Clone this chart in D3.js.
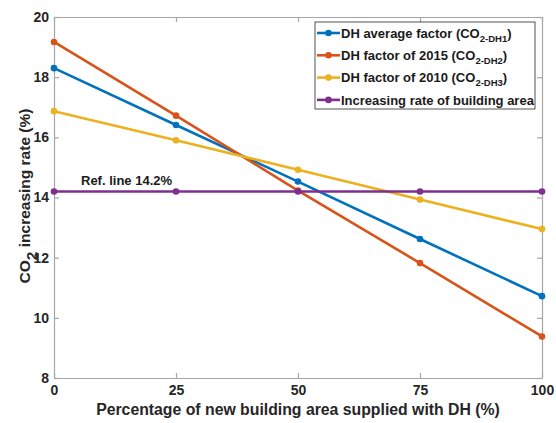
<!DOCTYPE html>
<html>
<head>
<meta charset="utf-8">
<script src="https://cdn.jsdelivr.net/npm/d3@7"></script>
<style>
  body { margin: 0; background: #fff; }
  svg { font-family: Arial, "Liberation Sans", sans-serif; }
</style>
</head>
<body>
<div id="chart"></div>
<script>
// data
let xValues = [0, 25, 50, 75, 100];
let dh1 = [18.3, 16.41, 14.53, 12.62, 10.72];
let dh2 = [19.17, 16.72, 14.23, 11.82, 9.38];
let dh3 = [16.87, 15.9, 14.92, 13.93, 12.95];
let area = [14.2, 14.2, 14.2, 14.2, 14.2];
let xTicks = [0, 25, 50, 75, 100];
let yTicks = [8, 10, 12, 14, 16, 18, 20];

let series = [
  {name: "DH average factor (CO", sub: "2-DH1", values: dh1, color: "#0072BD"},
  {name: "DH factor of 2015 (CO", sub: "2-DH2", values: dh2, color: "#D95319"},
  {name: "DH factor of 2010 (CO", sub: "2-DH3", values: dh3, color: "#EDB120"},
  {name: "Increasing rate of building area", sub: null, values: area, color: "#7E2F8E"}
];

let w = 556, h = 423;
let padLeft = 54, padRight = 542, padTop = 17, padBottom = 378;

let svg = d3.select("#chart")
  .append("svg")
    .attr("width", w)
    .attr("height", h);

let xScale = d3.scaleLinear().domain([0, 100]).range([padLeft, padRight]);
let yScale = d3.scaleLinear().domain([8, 20]).range([padBottom, padTop]);

// axes, matlab style box with inward ticks
let axisColor = "#a6a6a6";
let gx = svg.append("g")
  .attr("transform", "translate(0," + padBottom + ")")
  .call(d3.axisBottom(xScale).tickValues(xTicks).tickSizeInner(-5).tickSizeOuter(0).tickPadding(7));
let gy = svg.append("g")
  .attr("transform", "translate(" + padLeft + ",0)")
  .call(d3.axisLeft(yScale).tickValues(yTicks).tickSizeInner(-5).tickSizeOuter(0).tickPadding(5));
let gxt = svg.append("g")
  .attr("transform", "translate(0," + padTop + ")")
  .call(d3.axisTop(xScale).tickValues(xTicks).tickSizeInner(-5).tickSizeOuter(0).tickFormat(""));
let gyr = svg.append("g")
  .attr("transform", "translate(" + padRight + ",0)")
  .call(d3.axisRight(yScale).tickValues(yTicks).tickSizeInner(-5).tickSizeOuter(0).tickFormat(""));

[gx, gy, gxt, gyr].forEach(function(g){
  g.selectAll("path, line").attr("stroke", axisColor).attr("stroke-width", 1.2);
  g.selectAll("text")
    .attr("fill", "#262626")
    .attr("font-size", "14px")
    .attr("font-weight", "bold");
});

// lines
let line = d3.line()
  .x(function(d, i){ return xScale(xValues[i]); })
  .y(function(d){ return yScale(d); });

series.forEach(function(s){
  svg.append("path")
    .datum(s.values)
    .attr("fill", "none")
    .attr("stroke", s.color)
    .attr("stroke-width", 2.6)
    .attr("d", line);
  svg.selectAll(null)
    .data(s.values)
    .enter()
    .append("circle")
      .attr("cx", function(d, i){ return xScale(xValues[i]); })
      .attr("cy", function(d){ return yScale(d); })
      .attr("r", 3.3)
      .attr("fill", s.color);
});

// ref line label
svg.append("text")
  .attr("x", 81)
  .attr("y", yScale(14.2) - 6)
  .attr("font-size", "13px")
  .attr("font-weight", "bold")
  .attr("fill", "#1a1a1a")
  .text("Ref. line 14.2%");

// legend
let lg = svg.append("g");
lg.append("rect")
  .attr("x", 315)
  .attr("y", 22)
  .attr("width", 220)
  .attr("height", 87)
  .attr("fill", "#fff")
  .attr("stroke", "#262626")
  .attr("stroke-width", 0.8);

series.forEach(function(s, i){
  let yy = 33 + i * 22.3;
  lg.append("line")
    .attr("x1", 317).attr("x2", 340)
    .attr("y1", yy).attr("y2", yy)
    .attr("stroke", s.color)
    .attr("stroke-width", 2.6);
  lg.append("circle")
    .attr("cx", 328.5).attr("cy", yy)
    .attr("r", 3.3)
    .attr("fill", s.color);
  let t = lg.append("text")
    .attr("x", 341)
    .attr("y", yy + 4.7)
    .attr("font-size", "13px")
    .attr("font-weight", "bold")
    .attr("fill", "#1a1a1a")
    .text(s.name);
  if (s.sub) {
    t.append("tspan").attr("dy", 4).attr("font-size", "9.5px").text(s.sub);
    t.append("tspan").attr("dy", -4).text(")");
  }
});

// axis titles
svg.append("text")
  .attr("x", (padLeft + padRight) / 2)
  .attr("y", 415)
  .attr("text-anchor", "middle")
  .attr("font-size", "15.8px")
  .attr("font-weight", "bold")
  .attr("fill", "#262626")
  .text("Percentage of new building area supplied with DH (%)");

let yl = svg.append("text")
  .attr("transform", "translate(30,196) rotate(-90)")
  .attr("text-anchor", "middle")
  .attr("font-size", "15.5px")
  .attr("font-weight", "bold")
  .attr("fill", "#262626");
yl.append("tspan").text("CO");
yl.append("tspan").attr("dy", 7).text("2");
yl.append("tspan").attr("dy", -7).text(" increasing rate (%)");
</script>
</body>
</html>
